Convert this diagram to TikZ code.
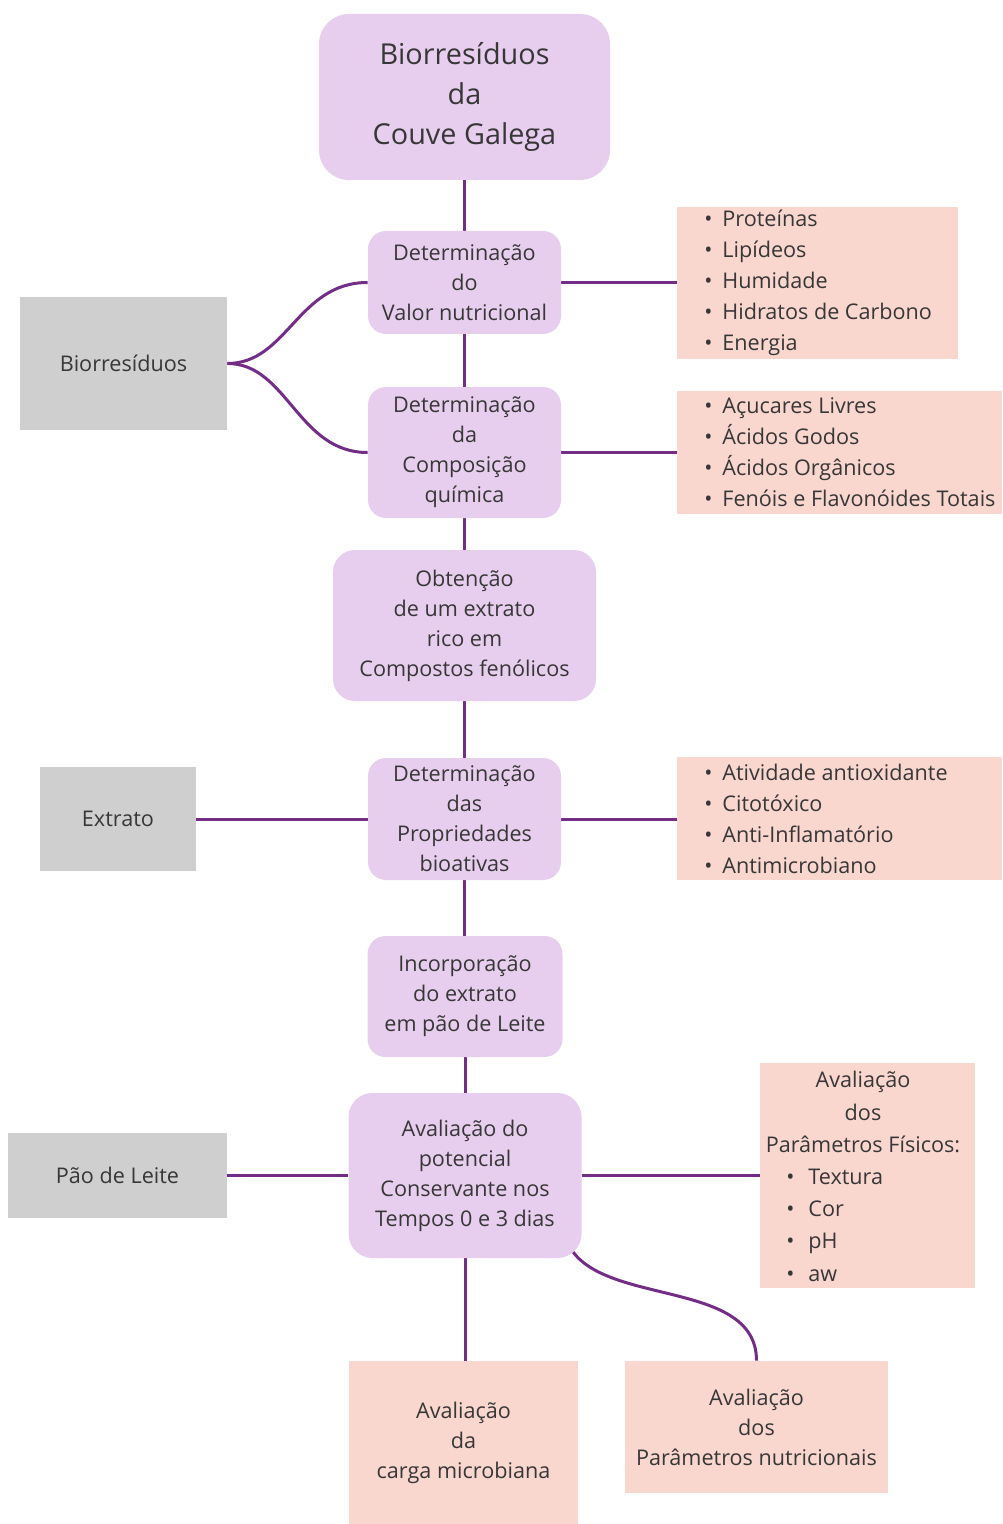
\documentclass[tikz,border=0pt]{standalone}
\usepackage{fontspec}
\setmainfont{Open Sans}
\usetikzlibrary{backgrounds,calc}
\definecolor{lila}{RGB}{232,206,238}
\definecolor{rosa}{RGB}{249,215,207}
\definecolor{cinza}{RGB}{207,207,207}
\definecolor{linha}{RGB}{115,45,135}
\definecolor{texto}{RGB}{55,55,55}
\newcommand{\bl}{\makebox[9pt][l]{\textbullet}}
\newcommand{\blb}{\makebox[11pt][l]{\textbullet}}
\begin{document}
\begin{tikzpicture}[x=0.5pt,y=-0.5pt,
  every node/.style={text=texto, font=\fontsize{10.8}{15}\selectfont, inner sep=0pt, align=center},
  lilabox/.style={fill=lila, rounded corners=9pt},
  rosabox/.style={fill=rosa},
  cinzabox/.style={fill=cinza},
  listtext/.style={anchor=west, align=left, font=\fontsize{10.8}{15.5}\selectfont},
  conn/.style={draw=linha, line width=1.5pt},
]
\useasboundingbox (0,0) rectangle (1002,1524);

% main column
\node[lilabox, rounded corners=15pt, minimum width=145.5pt, minimum height=83pt,
      font=\fontsize{14.4}{20}\selectfont] (t) at (464.5,97) {Biorresíduos\\da\\Couve Galega};
\node[lilabox, minimum width=96.5pt, minimum height=51.5pt] (b2) at (464.5,282.5) {Determinação\\do\\Valor nutricional};
\node[lilabox, minimum width=96.5pt, minimum height=65.5pt] (b3) at (464.5,452.5) {Determinação\\da\\Composição\\química};
\node[lilabox, rounded corners=11pt, minimum width=131.5pt, minimum height=75.5pt] (b4) at (464.5,625.5) {Obtenção\\de um extrato\\rico em\\Compostos fenólicos};
\node[lilabox, minimum width=96.5pt, minimum height=61pt] (b5) at (464.5,819) {Determinação\\das\\Propriedades\\bioativas};
\node[lilabox, minimum width=97.5pt, minimum height=60.5pt] (b6) at (465,996.5) {Incorporação\\do extrato\\em pão de Leite};
\node[lilabox, rounded corners=12pt, minimum width=116.5pt, minimum height=82.5pt] (b7) at (465,1175.5) {Avaliação do\\potencial\\Conservante nos\\Tempos 0 e 3 dias};

% grey boxes
\node[cinzabox, minimum width=103.5pt, minimum height=66.5pt] (g1) at (123.5,363.5) {Biorresíduos};
\node[cinzabox, minimum width=78pt, minimum height=52pt] (g2) at (118,819) {Extrato};
\node[cinzabox, minimum width=109.5pt, minimum height=42.5pt] (g3) at (117.5,1175.5) {Pão de Leite};

% pink boxes
\node[rosabox, minimum width=140.5pt, minimum height=76pt] (p1) at (817.5,283) {};
\node[listtext] (l1) at (704,283) {\bl Proteínas\\\bl Lipídeos\\\bl Humidade\\\bl Hidratos de Carbono\\\bl Energia};
\node[rosabox, minimum width=162.5pt, minimum height=61.5pt] (p2) at (839.5,452.5) {};
\node[listtext] (l2) at (704,452.5) {\bl Açucares Livres\\\bl Ácidos Godos\\\bl Ácidos Orgânicos\\\bl Fenóis e Flavonóides Totais};
\node[rosabox, minimum width=162.5pt, minimum height=61.5pt] (p3) at (839.5,818.5) {};
\node[listtext] (l3) at (704,818.5) {\bl Atividade antioxidante\\\bl Citotóxico\\\bl Anti-Inflamatório\\\bl Antimicrobiano};
\node[rosabox, minimum width=107.5pt, minimum height=112.5pt] (p4) at (867.5,1175.5) {};
\node[font=\fontsize{10.8}{16.2}\selectfont] (h4) at (863,1112) {Avaliação\\dos\\Parâmetros Físicos:};
\node[listtext, font=\fontsize{10.8}{16.2}\selectfont] (l4) at (786,1225) {\blb Textura\\\blb Cor\\\blb pH\\\blb aw};
\node[rosabox, minimum width=114.5pt, minimum height=81.5pt] (p5) at (463.5,1442.5) {Avaliação\\da\\carga microbiana};
\node[rosabox, minimum width=131.5pt, minimum height=66pt] (p6) at (756.5,1427) {Avaliação\\dos\\Parâmetros nutricionais};

\coordinate (c7) at ($(b7.south east)+(-10,-8)$);

\begin{scope}[on background layer]
\draw[conn] (t) -- (b2);
\draw[conn] (b2) -- (b3);
\draw[conn] (b3) -- (b4);
\draw[conn] (b4) -- (b5);
\draw[conn] (b5) -- (b5 |- b6.north);
\draw[conn] (b6) -- (b7);
\draw[conn] (b7) -- (b7 |- p5.north);
\draw[conn] (b2) -- (b2 -| p1.west);
\draw[conn] (b3) -- (b3 -| p2.west);
\draw[conn] (b5) -- (b5 -| p3.west);
\draw[conn] (b7) -- (b7 -| p4.west);
\draw[conn] (g2.east) -- (b5.west);
\draw[conn] (g3.east) -- (b7.west);
\draw[conn] (g1.east) .. controls +(60,0) and +(-70,0) .. (b2.west);
\draw[conn] (g1.east) .. controls +(60,0) and +(-70,0) .. (b3.west);
\draw[conn] (c7) .. controls +(38,55) and +(0,-80) .. (p6.north);
\end{scope}
\end{tikzpicture}
\end{document}
